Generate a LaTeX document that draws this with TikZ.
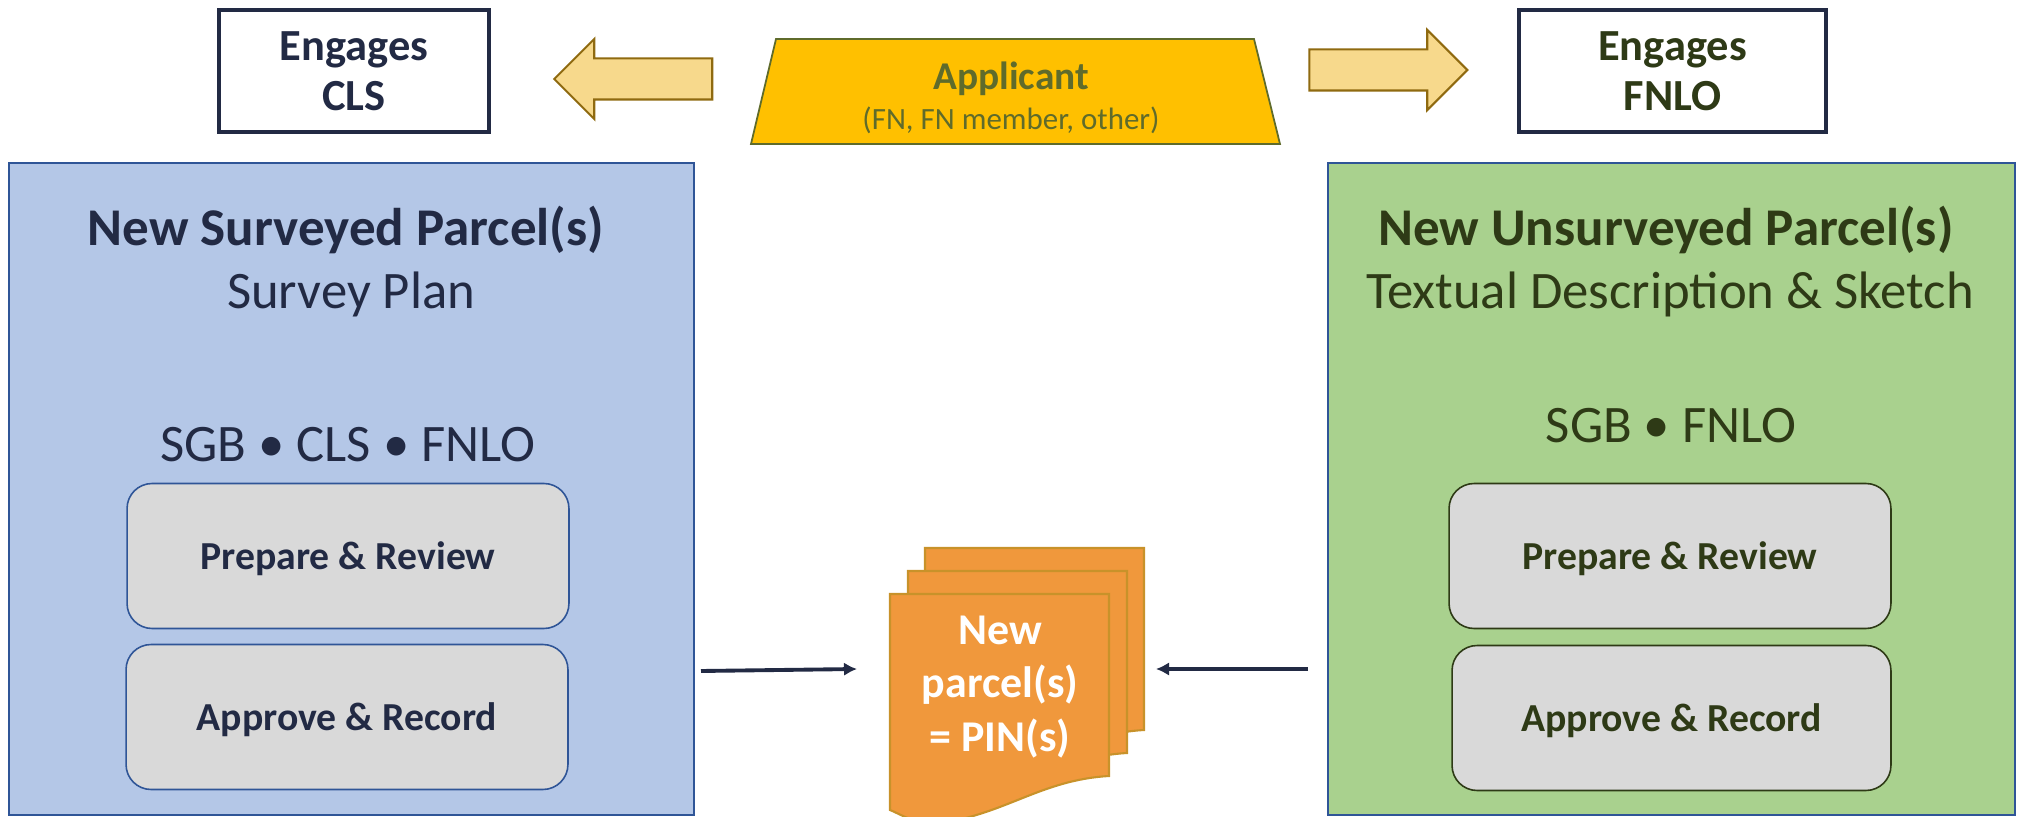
\documentclass[tikz,border=0pt]{standalone}
\usepackage{fontspec}
\setmainfont{Carlito}
\usetikzlibrary{arrows.meta,shapes.arrows,shapes.geometric,calc}

\definecolor{surveyfill}{HTML}{B4C7E7}
\definecolor{surveyline}{HTML}{2F5597}
\definecolor{surveytext}{HTML}{222A44}
\definecolor{landfill}{HTML}{A9D18E}
\definecolor{landtext}{HTML}{2E3A16}
\definecolor{applfill}{HTML}{FFC000}
\definecolor{appltext}{HTML}{5F6B2B}
\definecolor{blockfill}{HTML}{F7D98C}
\definecolor{blockline}{HTML}{8F6A10}
\definecolor{sheetfill}{HTML}{F0983C}
\definecolor{sheetline}{HTML}{C8922A}

\tikzset{
  parcelbox/.style={draw=surveyline,line width=1.3pt,minimum height=13.04cm},
  engagebox/.style={draw,fill=white,line width=2.2pt,align=center,font=\bfseries\fontsize{25.3}{28.5}\selectfont,minimum height=2.44cm},
  stepbox/.style={draw,fill=black!15,rounded corners=0.5cm,line width=0.9pt,minimum width=8.84cm,minimum height=2.9cm,text depth=0pt,font=\bfseries\fontsize{22.6}{27}\selectfont},
  blockarrow/.style={single arrow,draw=blockline,fill=blockfill,line width=1.2pt,inner xsep=0pt,inner ysep=0.39cm,minimum height=3.16cm,single arrow head extend=0.39cm,single arrow head indent=0pt},
  flow/.style={-{Latex[length=0.26cm,width=0.27cm]},line width=2.2pt,surveytext},
  titletext/.style={font=\bfseries\fontsize{30.2}{36}\selectfont},
  subtext/.style={font=\fontsize{30}{36}\selectfont},
}

\begin{document}
\begin{tikzpicture}[x=0.02cm,y=-0.02cm]
\useasboundingbox (0,0) rectangle (2019,817);

% Parcel panels
\node[parcelbox,fill=surveyfill,minimum width=13.7cm] (survey) at (351.5,489) {};
\node[parcelbox,fill=landfill,minimum width=13.74cm] (unsurvey) at (1671.5,489) {};

% Panel headings
\node[titletext,text=surveytext] (surveytitle) at (346,230) {New Surveyed Parcel(s)};
\node[subtext,text=surveytext] (surveyplan) at (351,294) {Survey Plan};
\node[subtext,text=surveytext] (surveyroles) at (348,445) {SGB • CLS • FNLO};
\node[titletext,text=landtext] (landtitle) at (1666,230) {New Unsurveyed Parcel(s)};
\node[subtext,text=landtext] (landplan) at (1670,294) {Textual Description \& Sketch};
\node[subtext,text=landtext] (landroles) at (1671,426) {SGB • FNLO};

% Steps
\node[stepbox,draw=surveyline,text=surveytext] (surveyprep) at (348,556) {Prepare \& Review};
\node[stepbox,draw=surveyline,text=surveytext] (surveyrec) at (347,717) {Approve \& Record};
\node[stepbox,draw=landtext,text=landtext] (landprep) at (1670,556) {Prepare \& Review};
\node[stepbox,draw=landtext,text=landtext,minimum width=8.78cm] (landrec) at (1671.5,718) {Approve \& Record};

% Applicant and who it engages
\draw[draw=appltext,fill=applfill,line width=1pt] (776,39) -- (1254,39) -- (1280,144) -- (751,144) -- cycle;
\node[text=appltext,font=\bfseries\fontsize{22.4}{27}\selectfont] (applicant) at (1011,79) {Applicant};
\node[text=appltext,font=\fontsize{17.6}{21}\selectfont] (appltype) at (1011,120) {(FN, FN member, other)};
\node[engagebox,draw=surveytext,text=surveytext,minimum width=5.4cm] (cls) at (354,71) {Engages\\CLS};
\node[engagebox,draw=surveytext,text=landtext,minimum width=6.14cm] (fnlo) at (1672.5,71) {Engages\\FNLO};
\node[blockarrow,shape border rotate=180] (toleft) at (643.5,79) {};
\node[blockarrow] (toright) at (1378,70) {};

% Stack of new parcels
\foreach \dx/\dy in {35/-46,18/-23,0/0}
  \draw[draw=sheetline,fill=sheetfill,line width=1.2pt,shift={(\dx,\dy)}]
    (890,594) -- (1109,594) -- (1109,776) .. controls (1040,780) and (1005,815) .. (935,824)
    .. controls (915,824) and (900,814) .. (890,810) -- cycle;
\node[text=white,align=center,font=\bfseries\fontsize{25}{30.6}\selectfont] (parcels) at (1000,687) {New\\parcel(s)\\= PIN(s)};

% Flows into the stack
\coordinate (surveyout) at (701,671);
\coordinate (surveyin) at (857,669);
\coordinate (landout) at (1308,669);
\coordinate (landin) at (1156,669);
\draw[flow] (surveyout) -- (surveyin);
\draw[flow] (landout) -- (landin);
\end{tikzpicture}
\end{document}
